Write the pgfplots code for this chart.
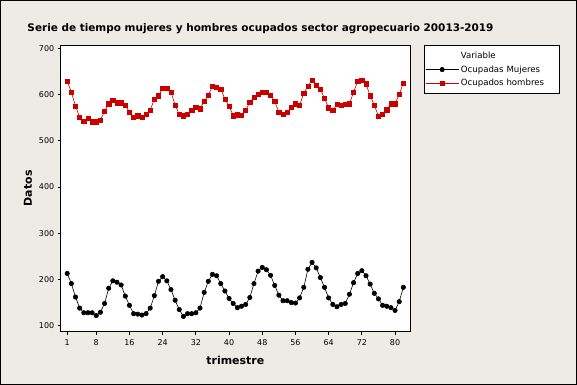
\documentclass[border=0pt]{standalone}
\usepackage{fontspec}
\setmainfont{DejaVu Sans}
\usepackage{pgfplots}
\pgfplotsset{compat=1.18}
\definecolor{bg}{RGB}{238,235,230}
\definecolor{mred}{RGB}{200,0,0}
\pgfplotstableread{
t v
1 213
2 191
3 162
4 138
5 128
6 128
7 128
8 122
9 129
10 148
11 181
12 197
13 194
14 188
15 164
16 144
17 126
18 125
19 123
20 126
21 138
22 165
23 196
24 206
25 197
26 178
27 155
28 135
29 120
30 126
31 126
32 128
33 138
34 172
35 196
36 211
37 208
38 191
39 175
40 159
41 148
42 139
43 142
44 146
45 161
46 191
47 218
48 226
49 221
50 209
51 187
52 166
53 154
54 154
55 150
56 149
57 160
58 183
59 222
60 237
61 225
62 204
63 183
64 160
65 146
66 141
67 146
68 148
69 168
70 193
71 213
72 219
73 208
74 190
75 170
76 158
77 144
78 142
79 139
80 133
81 152
82 183
}\mujeres
\pgfplotstableread{
t v
1 629
2 605
3 575
4 551
5 542
6 548
7 541
8 541
9 545
10 564
11 580
12 588
13 582
14 582
15 577
16 562
17 551
18 554
19 551
20 558
21 566
22 590
23 597
24 614
25 614
26 605
27 577
28 557
29 554
30 558
31 565
32 572
33 569
34 585
35 599
36 617
37 615
38 612
39 590
40 575
41 554
42 556
43 555
44 566
45 583
46 594
47 600
48 605
49 604
50 599
51 585
52 562
53 558
54 561
55 572
56 580
57 576
58 603
59 618
60 631
61 620
62 611
63 592
64 571
65 566
66 578
67 576
68 578
69 580
70 605
71 629
72 630
73 623
74 597
75 577
76 553
77 558
78 567
79 580
80 580
81 600
82 625
}\hombres
\begin{document}
\begin{tikzpicture}
\path[use as bounding box, fill=bg] (-60.7bp,-53.3bp) rectangle (516.3bp,331.7bp);
\draw[black, line width=1bp] (-60.2bp,-52.8bp) rectangle (515.8bp,331.2bp);
\begin{axis}[
  at={(0,0)}, anchor=south west,
  scale only axis, width=349.3bp, height=286.7bp,
  xmin=-0.57, xmax=83.6, ymin=87, ymax=707,
  xtick={1,8,16,24,32,40,48,56,64,72,80},
  ytick={100,200,300,400,500,600,700},
  tick align=outside, xtick pos=bottom, ytick pos=left,
  major tick length=3bp,
  tick style={black, line width=0.8bp},
  axis line style={black, line width=1bp},
  axis background/.style={fill=white},
  tick label style={font=\fontsize{8}{9}\selectfont},
  xticklabel style={yshift=-1bp},
  /pgf/number format/assume math mode=true,
  /pgf/number format/1000 sep={},
  title={Serie de tiempo mujeres y hombres ocupados sector agropecuario 20013-2019},
  title style={at={(axis description cs:0.572,1)}, anchor=center, yshift=10bp, font=\bfseries\fontsize{10.5}{12}\selectfont},
  xlabel={trimestre}, ylabel={Datos},
  xlabel style={at={(axis description cs:0.5,0)}, anchor=center, yshift=-29bp, font=\bfseries\fontsize{11}{13}\selectfont},
  ylabel style={at={(axis description cs:-0.0936,0.5)}, anchor=center, font=\bfseries\fontsize{11}{13}\selectfont},
  legend style={at={(axis description cs:1.040,1)}, anchor=north west, draw=black, line width=0.8bp, fill=white,
    font=\fontsize{8.6}{10}\selectfont, inner xsep=1bp, inner ysep=4.3bp, row sep=1.9bp,
    nodes={text width=95bp, inner xsep=2bp}},
  legend cell align=left,
  legend image code/.code={\draw[mark repeat=2,mark phase=2,#1] plot coordinates {(0bp,0bp) (16.5bp,0bp) (33bp,0bp)};},
]
\addlegendimage{empty legend}
\addlegendentry{Variable}
\addplot[black, line width=0.6bp, mark=*, mark size=2.2bp, mark options={solid}] table[x=t,y=v] {\mujeres};
\addlegendentry{Ocupadas Mujeres}
\addplot[mred, line width=0.6bp, mark=square*, mark size=2.1bp, mark options={solid}] table[x=t,y=v] {\hombres};
\addlegendentry{Ocupados hombres}
\end{axis}
\end{tikzpicture}
\end{document}
